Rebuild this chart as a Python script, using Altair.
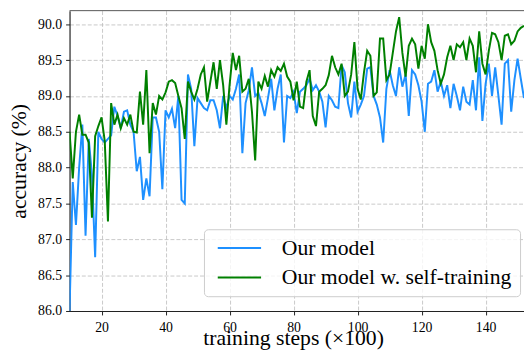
import altair as alt
import pandas as pd

steps = list(range(10, 153))

acc_base = [
    86.0, 87.8, 87.2, 88.0, 88.6, 87.05, 88.4, 87.9, 86.75, 88.5,
    88.4, 88.35, 88.4, 88.45, 88.85, 88.72, 88.55, 88.78, 88.8, 88.6,
    88.5, 87.95, 88.15, 87.55, 87.85, 87.6, 88.7, 88.7, 88.5, 87.7,
    88.8, 88.7, 88.82, 88.55, 89.0, 87.55, 87.5, 89.3, 89.1, 88.3,
    88.97, 88.9, 88.83, 88.8, 88.94, 88.94, 88.8, 88.55, 89.0, 88.83,
    89.0, 88.95, 89.1, 89.3, 88.2, 88.9, 89.08, 89.4, 89.0, 89.04,
    88.9, 88.72, 88.97, 89.24, 88.8, 89.1, 89.3, 88.35, 89.0, 88.97,
    89.06, 88.76, 89.06, 89.1, 89.15, 89.24, 89.08, 89.15, 89.06, 88.92,
    88.56, 89.0, 88.94, 88.85, 88.83, 89.43, 89.33, 88.9, 88.7, 89.2,
    88.78, 88.88, 89.0, 89.38, 89.4, 89.0, 88.88, 88.7, 88.35, 89.1,
    89.36, 89.15, 89.0, 89.4, 89.13, 89.3, 88.72, 89.36, 89.3, 89.15,
    88.92, 88.5, 89.17, 89.2, 89.36, 89.06, 89.2, 89.0, 89.15, 88.83,
    89.17, 89.0, 88.8, 89.13, 88.92, 88.88, 89.22, 88.8, 89.54, 88.65,
    89.17, 89.45, 89.0, 89.4, 89.0, 88.6, 89.45, 89.5, 88.78, 89.22,
    89.52, 89.24, 88.97,
]

acc_self = [
    88.5, 87.85, 88.5, 88.74, 88.46, 88.46, 88.35, 87.3, 88.44, 88.58,
    88.7, 88.37, 87.25, 88.9, 88.6, 88.74, 88.55, 88.69, 88.6, 88.74,
    88.5, 88.49, 89.06, 88.6, 89.36, 88.2, 88.9, 88.74, 89.0, 88.95,
    89.05, 89.2, 89.22, 89.18, 89.0, 88.83, 88.4, 89.2, 89.06, 88.95,
    89.1, 89.3, 89.4, 88.92, 89.2, 89.47, 89.1, 89.5, 89.15, 88.6,
    89.15, 89.6, 89.36, 89.56, 89.06, 89.1, 89.24, 88.78, 88.1, 89.2,
    89.1, 89.28, 89.13, 89.36, 89.27, 89.4, 89.35, 89.45, 89.27, 89.2,
    88.94, 89.2, 88.85, 88.83, 89.2, 89.36, 88.72, 88.58, 89.06, 89.1,
    89.15, 89.29, 89.56, 89.4, 89.3, 89.45, 89.0, 89.06, 89.3, 89.75,
    89.1, 88.95, 89.33, 89.63, 89.56, 89.0, 89.05, 89.8, 89.8, 89.22,
    89.3, 89.6, 89.9, 90.1, 89.6, 89.27, 89.7, 89.8, 89.72, 89.38,
    89.7, 89.52, 90.0, 89.75, 89.63, 89.36, 89.17, 89.3, 89.54, 89.7,
    89.5, 89.72, 89.68, 89.75, 89.5, 89.8, 89.7, 89.33, 89.9, 89.45,
    89.3, 89.63, 89.88, 89.86, 89.75, 89.5, 89.84, 89.86, 89.72, 89.77,
    89.9, 89.95, 89.98,
]

series_names = ["Our model", "Our model w. self-training"]
series_colors = ["#1e90ff", "#008000"]
x_ticks = [20, 40, 60, 80, 100, 120, 140]
y_ticks = [86.0, 86.5, 87.0, 87.5, 88.0, 88.5, 89.0, 89.5, 90.0]

df = pd.DataFrame({
    "step": steps + steps,
    "acc": acc_base + acc_self,
    "model": [series_names[0]] * len(steps) + [series_names[1]] * len(steps),
})

FONT = "Liberation Serif"

lines = alt.Chart(df).mark_line(strokeWidth=2, clip=True).encode(
    x=alt.X("step:Q",
            scale=alt.Scale(domain=[10, 152], nice=False, zero=False),
            axis=alt.Axis(values=x_ticks, title="training steps (×100)",
                          titleX=227, titleY=34, titleBaseline="alphabetic",
                          labelFontSize=14, labelPadding=6, labelFlush=False)),
    y=alt.Y("acc:Q",
            scale=alt.Scale(domain=[86.0, 90.19], nice=False, zero=False),
            axis=alt.Axis(values=y_ticks, format=".1f", title="accuracy (%)",
                          titleX=-44.5, titleY=152.5, titleAngle=270,
                          titleBaseline="alphabetic",
                          labelFontSize=14, labelPadding=4, labelFlush=False)),
    color=alt.Color("model:N",
                    scale=alt.Scale(domain=series_names, range=series_colors),
                    legend=alt.Legend(orient="none", legendX=136.5, legendY=222,
                                      title=None, symbolType="M-2.75,0H2.75",
                                      symbolSize=256, symbolStrokeWidth=2,
                                      labelFont=FONT, labelFontSize=22,
                                      labelColor="black", labelLimit=500,
                                      labelOffset=32, padding=8, symbolOffset=17,
                                      rowPadding=8,
                                      fillColor="rgba(255,255,255,0.8)",
                                      strokeColor="#cccccc", cornerRadius=4)),
)

top_spine = alt.Chart(alt.Data(values=[{}])).mark_rule(
    color="#555555", strokeWidth=1
).encode(y=alt.value(0))

chart = alt.layer(lines, top_spine).properties(
    width=461.5, height=305,
    autosize=alt.AutoSizeParams(type="none"),
    padding={"left": 62.5, "top": 0, "right": 0, "bottom": 42},
).configure(font=FONT).configure_view(stroke=None).configure_axis(
    labelFont=FONT, titleFont=FONT, titleFontSize=22, titleFontWeight="normal",
    labelColor="black", titleColor="black",
    domainColor="#222222", domainWidth=1.2,
    tickColor="#222222", tickSize=4, tickWidth=1,
    grid=True, gridColor="#bbbbbb", gridDash=[4, 2], gridWidth=0.8,
)

chart.save("out.html", embed_options={"renderer": "svg", "actions": False})
